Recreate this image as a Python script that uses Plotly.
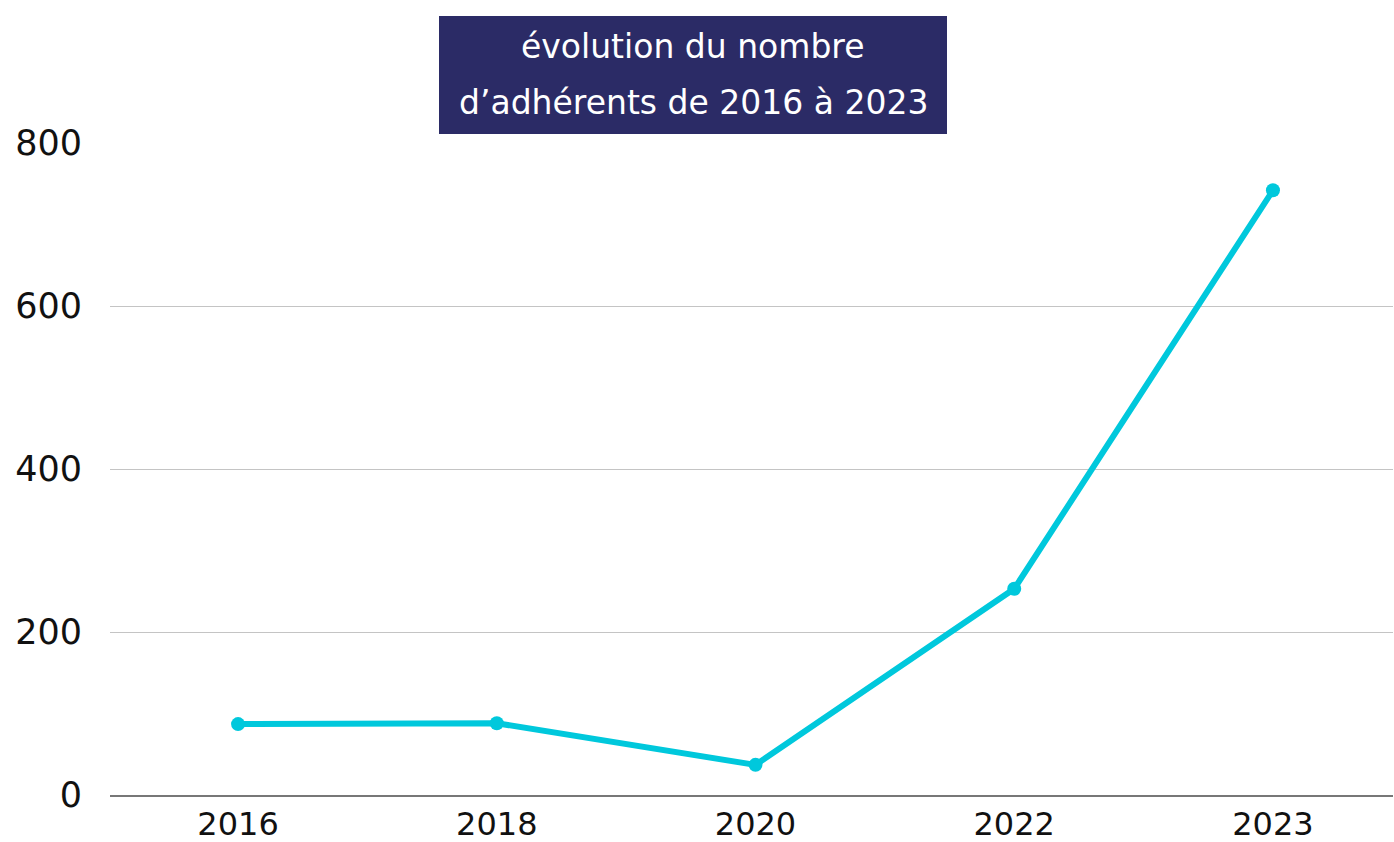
import plotly.graph_objects as go

years = ["2016", "2018", "2020", "2022", "2023"]
members = [87, 88, 37, 253, 742]
y_ticks = [0, 200, 400, 600, 800]
title_lines = ["évolution du nombre", "d’adhérents de 2016 à 2023"]

FONT = "DejaVu Sans"
L, R, T, B = 110, 1, 143, 47
W, H = 1394, 842
pw, ph = W - L - R, H - T - B

def px(x):
    return (x - L) / pw

def py(y):
    return (H - B - y) / ph

fig = go.Figure()
fig.add_trace(go.Scatter(
    x=list(range(len(years))), y=members, mode="lines+markers",
    line=dict(color="#00c8dc", width=6),
    marker=dict(color="#00c8dc", size=14),
    hoverinfo="skip", showlegend=False,
))

fig.add_shape(type="rect", xref="paper", yref="paper",
              x0=px(439), x1=px(947), y0=py(134), y1=py(16),
              fillcolor="#2b2b66", line=dict(width=0), layer="above")
for i, (txt, ypix) in enumerate(zip(title_lines, [47, 102])):
    fig.add_annotation(text=txt, xref="paper", yref="paper",
                       x=px(693), y=py(ypix), showarrow=False,
                       xanchor="center", yanchor="middle",
                       font=dict(family=FONT, size=33, color="white"))

fig.update_layout(
    width=W, height=H,
    margin=dict(l=L, r=R, t=T, b=B, autoexpand=False),
    paper_bgcolor="white", plot_bgcolor="white",
    font=dict(family=FONT, size=32, color="#111111"),
)
fig.update_xaxes(
    tickmode="array", tickvals=list(range(len(years))), ticktext=years,
    range=[-0.495, 4.464], showgrid=False, zeroline=False,
    showline=True, linecolor="#777777", linewidth=1.5, automargin=False,
    ticks="", ticklabelstandoff=0, tickfont=dict(size=32, family=FONT),
)
fig.update_yaxes(
    range=[0, 800], tickvals=y_ticks, showgrid=True, automargin=False,
    gridcolor="#c4c4c4", gridwidth=1, zeroline=False,
    ticks="", ticklabelstandoff=27, tickfont=dict(size=35, family=FONT),
)

fig.write_html("out.html", config={"displayModeBar": False},
               post_script="document.body.style.margin='0';document.body.style.padding='0';")
